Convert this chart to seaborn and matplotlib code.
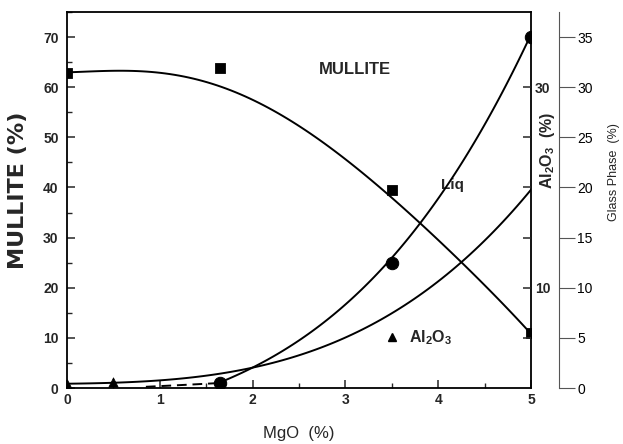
import matplotlib
matplotlib.use("Agg")
import matplotlib.pyplot as plt
from matplotlib.lines import Line2D
from matplotlib.ticker import MultipleLocator, FixedLocator, FixedFormatter
import seaborn as sns

# ---- measured points -------------------------------------------------------
mgo_mullite = [0.0, 1.65, 3.5, 5.0]
mullite_pts = [62.8, 63.8, 39.5, 11.0]

mgo_glass = [1.65, 3.5, 5.0]
glass_pts = [0.5, 12.5, 35.0]

mgo_alumina = [0.0, 0.5]
alumina_pts = [0.4, 0.6]

# ---- traced trend curves (smoothed with a polynomial fit) ------------------
mgo_mullite_fit = [0.0, 0.25, 0.5, 0.75, 1.0, 1.25, 1.5, 1.75, 2.0, 2.25, 2.5,
                   2.75, 3.0, 3.25, 3.5, 3.75, 4.0, 4.25, 4.5, 4.75, 5.0]
mullite_fit = [63.0, 63.15, 63.2, 63.1, 62.9, 62.3, 61.2, 59.6, 57.2, 54.9, 52.3,
               49.2, 45.6, 41.8, 38.2, 33.9, 29.4, 24.9, 20.6, 15.8, 10.8]

mgo_glass_fit = [1.65, 1.8, 2.0, 2.25, 2.5, 2.75, 3.0, 3.25, 3.5, 3.75, 4.0,
                 4.25, 4.5, 4.75, 5.0]
glass_fit = [0.5, 1.1, 2.0, 3.4, 4.95, 6.6, 8.4, 10.3, 12.5, 15.6, 19.0,
             22.65, 26.5, 30.65, 35.0]

# extrapolated (dashed) part of the glass-phase curve
mgo_glass_ext = [0.85, 1.2, 1.45, 1.65]
glass_ext = [0.12, 0.28, 0.4, 0.5]

mgo_alumina_fit = [0.0, 0.5, 1.0, 1.5, 1.75, 2.0, 2.25, 2.5, 2.75, 3.0, 3.25,
                   3.5, 3.75, 4.0, 4.25, 4.5, 4.75, 5.0]
alumina_fit = [0.4, 0.575, 0.8, 1.2, 1.5, 1.95, 2.55, 3.3, 4.35, 5.1, 6.1,
               7.25, 8.9, 10.6, 12.65, 14.75, 17.1, 19.75]

sns.set_style("ticks", {"xtick.direction": "in", "ytick.direction": "in"})
plt.rcParams["font.family"] = ["Liberation Sans", "DejaVu Sans"]
plt.rcParams["mathtext.default"] = "regular"

W, H = 623, 444
fig = plt.figure(figsize=(W / 100, H / 100), dpi=100)
ax = fig.add_axes([67 / W, 56 / H, 464 / W, 376 / H])
ax2 = ax.twinx()
ax3 = ax.twinx()

LW = 1.4
line_kws = {"color": "k", "lw": LW}

# mullite
sns.regplot(x=mgo_mullite_fit, y=mullite_fit, ax=ax, order=5, ci=None,
            scatter=False, truncate=True, line_kws=line_kws)
sns.scatterplot(x=mgo_mullite, y=mullite_pts, ax=ax, marker="s", s=55,
                color="k", edgecolor="k", zorder=5)

# Al2O3
sns.regplot(x=mgo_alumina_fit, y=alumina_fit, ax=ax2, order=4, ci=None,
            scatter=False, truncate=True, line_kws=line_kws)
sns.scatterplot(x=mgo_alumina, y=alumina_pts, ax=ax2, marker="^", s=45,
                color="k", edgecolor="k", zorder=5)

# glass phase
sns.regplot(x=mgo_glass_fit, y=glass_fit, ax=ax3, order=3, ci=None,
            scatter=False, truncate=True, line_kws=line_kws)
sns.regplot(x=mgo_glass_ext, y=glass_ext, ax=ax3, order=2, ci=None,
            scatter=False, truncate=True,
            line_kws={"color": "k", "lw": LW, "ls": (0, (5, 3))})
sns.scatterplot(x=mgo_glass, y=glass_pts, ax=ax3, marker="o", s=80,
                color="k", edgecolor="k", zorder=5)

# ---- axes ------------------------------------------------------------------
for a in (ax, ax2, ax3):
    a.set_xlim(0, 5)
    a.set_xlabel("")
    a.set_ylabel("")
ax.set_ylim(0, 75)
ax2.set_ylim(0, 37.5)
ax3.set_ylim(0, 37.5)

for s in ax.spines.values():
    s.set_linewidth(1.3)
    s.set_color("k")
for name in ("top", "bottom", "left"):
    ax2.spines[name].set_visible(False)
    ax3.spines[name].set_visible(False)
ax2.spines["right"].set_visible(False)
ax3.spines["right"].set_position(("outward", 28 * 0.72))
ax3.spines["right"].set_color("#555555")
ax3.spines["right"].set_linewidth(0.8)

ax.xaxis.set_major_locator(MultipleLocator(1))
ax.xaxis.set_minor_locator(MultipleLocator(0.5))
ax.yaxis.set_major_locator(MultipleLocator(10))
ax.yaxis.set_minor_locator(MultipleLocator(5))
ax.tick_params(which="major", direction="in", length=5.8, width=1.1,
               labelsize=10, pad=3.5, top=False, right=False)
ax.tick_params(axis="y", which="major", pad=6)
ax.tick_params(which="minor", direction="in", length=3.6, width=1.0,
               top=False, right=False)
for lab in ax.get_xticklabels() + ax.get_yticklabels():
    lab.set_fontweight("bold")

ax2.yaxis.set_major_locator(FixedLocator([5, 10, 15, 20, 25, 30]))
ax2.yaxis.set_major_formatter(FixedFormatter(["", "10", "", "", "", "30"]))
ax2.tick_params(axis="y", which="major", direction="in", length=5.8, width=1.1,
                labelsize=10, pad=3)
for lab in ax2.get_yticklabels():
    lab.set_fontweight("bold")

ax3.yaxis.set_major_locator(MultipleLocator(5))
ax3.tick_params(axis="y", which="major", direction="out", length=11.5,
                width=0.8, color="#555555", labelcolor="k", labelsize=10,
                pad=1.5)

# ---- labels ----------------------------------------------------------------
ax.set_xlabel("MgO  (%)", fontsize=12, labelpad=14)
ax.set_ylabel("MULLITE (%)", fontsize=16, fontweight="bold",
              family=["DejaVu Sans"])
ax.yaxis.set_label_coords(-0.083, 0.527)

ax2.set_ylabel("Al$_2$O$_3$  (%)", fontsize=11.5, fontweight="bold")
ax2.yaxis.set_label_coords(1.015, 0.633)

ax3.set_ylabel("Glass Phase  (%)", fontsize=9)
ax3.yaxis.set_label_coords(1.165, 0.575)

ax.text(3.1, 63.6, "MULLITE", fontsize=12, fontweight="bold",
        ha="center", va="center")
ax.text(4.15, 40.5, "Liq", fontsize=11, fontweight="bold",
        ha="center", va="center")

handle = Line2D([], [], marker="^", ls="none", color="k", markersize=6)
ax.legend([handle], ["Al$_2$O$_3$"], loc="center left",
          bbox_to_anchor=(0.683, 0.133), frameon=False, borderpad=0,
          borderaxespad=0, handlelength=1.0, handletextpad=0.6,
          prop={"size": 11.5, "weight": "bold"})

fig.savefig("out.png", dpi=100)
